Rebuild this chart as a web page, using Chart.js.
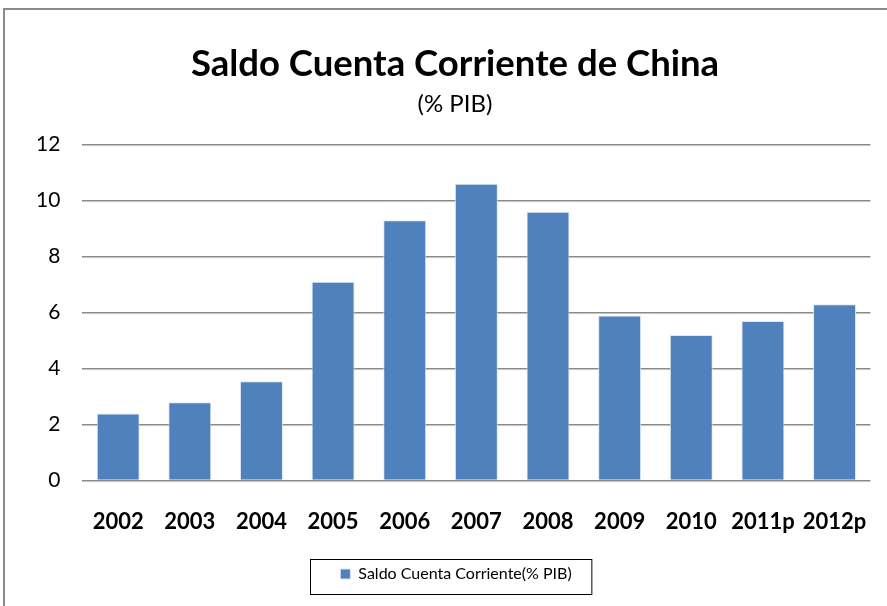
<!DOCTYPE html>
<html>
<head>
<meta charset="utf-8">
<script src="https://cdn.jsdelivr.net/npm/chart.js@4"></script>
<style>
    html, body { margin: 0; padding: 0; background: #ffffff; overflow: hidden; }
    #wrap { position: relative; width: 887px; height: 606px; }
    #frame {
        position: absolute; left: 3px; top: 8px; width: 1000px; height: 1000px;
        border: 2px solid #8a8a8a; box-sizing: border-box; pointer-events: none;
    }
</style>
</head>
<body>
<div id="wrap">
    <canvas id="chart" width="887" height="606"></canvas>
    <div id="frame"></div>
</div>
<script>
// Daten
const categories = ['2002', '2003', '2004', '2005', '2006', '2007', '2008', '2009', '2010', '2011p', '2012p'];
const saldoValues = [2.4, 2.8, 3.55, 7.1, 9.3, 10.6, 9.6, 5.9, 5.2, 5.7, 6.3];
const yTicks = [0, 2, 4, 6, 8, 10, 12];

const FONT = 'Lato, "Open Sans", sans-serif';

// Titel und Legende etwas nach rechts schieben (im Original nicht exakt mittig)
const shiftBlocks = {
    id: 'shiftBlocks',
    afterLayout(chart) {
        const TitleEl = Chart.Title._element;
        chart.boxes.forEach(box => {
            if (box instanceof TitleEl) {
                box.left += 12;
                box.right += 12;
            }
        });
        const legend = chart.legend;
        if (legend) {
            legend.left += 13;
            legend.right += 13;
            legend.legendHitBoxes.forEach(h => { h.left += 13; });
        }
    }
};

// Rahmen um die Legende zeichnen (wie in Excel)
const legendBox = {
    id: 'legendBox',
    afterDraw(chart) {
        const boxes = chart.legend.legendHitBoxes;
        if (!boxes || !boxes.length) return;
        const b = boxes[0];
        const ctx = chart.ctx;
        ctx.save();
        ctx.strokeStyle = '#000000';
        ctx.lineWidth = 1;
        ctx.strokeRect(Math.round(b.left - 30) + 0.5, Math.round(b.top - 7) + 0.5, b.width + 50, b.height + 19);
        ctx.restore();
    }
};

new Chart(document.getElementById('chart').getContext('2d'), {
    type: 'bar',
    data: {
        labels: categories,
        datasets: [{
            label: 'Saldo Cuenta Corriente(% PIB)',
            data: saldoValues,
            backgroundColor: '#4f81bd',
            borderColor: 'rgba(220, 230, 242, 0.9)',
            borderWidth: 1,
            barPercentage: 0.6,
            categoryPercentage: 1.0
        }]
    },
    options: {
        responsive: false,
        animation: false,
        layout: { padding: { left: 14, right: 15, top: 0, bottom: 14 } },
        plugins: {
            title: {
                display: true,
                text: 'Saldo Cuenta Corriente de China',
                color: '#000000',
                font: { family: FONT, size: 36.5, weight: 'bold' },
                padding: { top: 42, bottom: 4 }
            },
            subtitle: {
                display: true,
                text: '(% PIB)',
                color: '#000000',
                font: { family: FONT, size: 24 },
                padding: { bottom: 26 }
            },
            legend: {
                position: 'bottom',
                labels: {
                    color: '#000000',
                    font: { family: FONT, size: 16 },
                    boxWidth: 10,
                    boxHeight: 10,
                    padding: 11
                }
            },
            tooltip: { enabled: false }
        },
        scales: {
            x: {
                grid: { display: false },
                border: { display: false },
                ticks: {
                    color: '#000000',
                    font: { family: FONT, size: 22, weight: 'bold' },
                    padding: 20,
                    maxRotation: 0,
                    autoSkip: false
                }
            },
            y: {
                min: 0,
                max: 12,
                afterBuildTicks(axis) {
                    axis.ticks = yTicks.map(v => ({ value: v }));
                },
                grid: { color: '#8a8a8a', lineWidth: 1.5, drawTicks: false },
                border: { display: false },
                ticks: {
                    color: '#000000',
                    font: { family: FONT, size: 21 },
                    padding: 22
                }
            }
        }
    },
    plugins: [shiftBlocks, legendBox]
});
</script>
</body>
</html>
